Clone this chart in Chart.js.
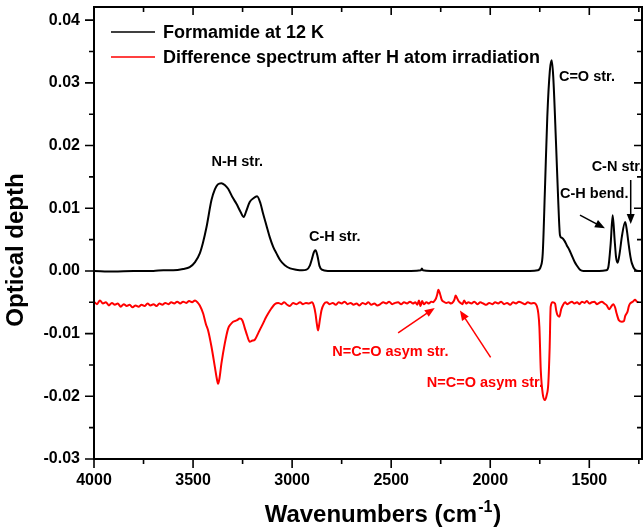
<!DOCTYPE html>
<html lang="en">
<head>
<meta charset="UTF-8">
<title>Formamide at 12 K</title>
<script src="https://cdn.jsdelivr.net/npm/chart.js"></script>
<style>
  html, body { margin: 0; padding: 0; background: #fff; }
  canvas { display: block; }
</style>
</head>
<body>
<canvas id="spectrum" width="644" height="530"></canvas>
<script>
const seriesNames = ['Formamide at 12 K', 'Difference spectrum after H atom irradiation'];
const seriesColors = ['#000000', '#ff0000'];

// black trace: wavenumber (cm-1) / optical depth
const formamideWn = [4000, 3900, 3800, 3700, 3650, 3600, 3550, 3517, 3490, 3466, 3450, 3432, 3407, 3390, 3375, 3357, 3340, 3323, 3300, 3281, 3260, 3244, 3232, 3214, 3195, 3177, 3160, 3147, 3130, 3113, 3095, 3079, 3060, 3037, 3010, 2980, 2950, 2927, 2910, 2900, 2890, 2882, 2872, 2862, 2850, 2820, 2700, 2600, 2500, 2400, 2350, 2345, 2340, 2300, 2200, 2100, 2000, 1900, 1800, 1760, 1745, 1735, 1724, 1712, 1699, 1690, 1682, 1668, 1657, 1648, 1640, 1625, 1614, 1600, 1589, 1575, 1564, 1547, 1530, 1450, 1415, 1404, 1392, 1382, 1372, 1365, 1357, 1346, 1336, 1319, 1310, 1302, 1292, 1285, 1269, 1250, 1234];
const formamideOd = [0.0000, -0.0001, 0.0000, 0.0000, 0.0001, 0.0001, 0.0003, 0.0006, 0.0014, 0.0028, 0.0045, 0.0070, 0.0113, 0.0130, 0.0138, 0.0140, 0.0137, 0.0131, 0.0117, 0.0107, 0.0094, 0.0086, 0.0095, 0.0110, 0.0116, 0.0119, 0.0108, 0.0092, 0.0073, 0.0054, 0.0038, 0.0028, 0.0017, 0.0009, 0.0004, 0.0002, 0.0001, 0.0002, 0.0009, 0.0019, 0.0030, 0.0033, 0.0024, 0.0008, 0.0002, 0.0000, 0.0000, 0.0000, 0.0000, 0.0000, 0.0001, 0.0004, 0.0001, 0.0000, 0.0000, 0.0000, 0.0000, 0.0000, 0.0000, 0.0001, 0.0007, 0.0028, 0.0129, 0.0246, 0.0320, 0.0336, 0.0310, 0.0204, 0.0113, 0.0057, 0.0053, 0.0048, 0.0041, 0.0033, 0.0025, 0.0015, 0.0009, 0.0002, 0.0000, 0.0000, 0.0001, 0.0006, 0.0044, 0.0089, 0.0049, 0.0022, 0.0013, 0.0030, 0.0054, 0.0078, 0.0064, 0.0044, 0.0022, 0.0012, 0.0002, 0.0000, 0.0000];

// red trace: difference spectrum
const diffWn = [4000, 3985, 3970, 3955, 3940, 3925, 3910, 3895, 3880, 3865, 3850, 3835, 3820, 3805, 3790, 3775, 3760, 3745, 3730, 3715, 3700, 3685, 3670, 3655, 3640, 3625, 3610, 3595, 3580, 3565, 3550, 3535, 3520, 3505, 3490, 3478, 3466, 3449, 3435, 3424, 3407, 3390, 3380, 3374, 3367, 3357, 3340, 3323, 3310, 3298, 3280, 3264, 3251, 3240, 3227, 3214, 3200, 3189, 3172, 3160, 3147, 3135, 3121, 3105, 3088, 3070, 3055, 3040, 3025, 3012, 2995, 2978, 2960, 2945, 2930, 2915, 2900, 2890, 2882, 2875, 2869, 2860, 2852, 2840, 2825, 2810, 2795, 2780, 2765, 2750, 2735, 2720, 2705, 2690, 2675, 2660, 2645, 2630, 2615, 2600, 2585, 2570, 2555, 2540, 2525, 2510, 2495, 2480, 2465, 2450, 2435, 2420, 2405, 2390, 2378, 2368, 2360, 2352, 2344, 2335, 2322, 2310, 2298, 2288, 2280, 2274, 2268, 2262, 2254, 2245, 2235, 2222, 2210, 2198, 2186, 2180, 2175, 2168, 2160, 2150, 2140, 2132, 2122, 2110, 2095, 2080, 2065, 2050, 2035, 2020, 2005, 1990, 1975, 1960, 1945, 1930, 1915, 1900, 1885, 1870, 1855, 1840, 1825, 1810, 1795, 1780, 1765, 1752, 1745, 1735, 1724, 1715, 1707, 1700, 1695, 1685, 1673, 1667, 1661, 1651, 1642, 1634, 1622, 1612, 1600, 1588, 1575, 1562, 1550, 1537, 1524, 1512, 1500, 1487, 1474, 1462, 1450, 1437, 1424, 1412, 1400, 1388, 1379, 1370, 1362, 1350, 1336, 1325, 1319, 1307, 1300, 1294, 1280, 1269, 1260, 1252, 1243, 1234];
const diffOd = [-0.0049, -0.0053, -0.0047, -0.0052, -0.0050, -0.0055, -0.0051, -0.0054, -0.0052, -0.0057, -0.0053, -0.0056, -0.0054, -0.0058, -0.0055, -0.0057, -0.0054, -0.0056, -0.0052, -0.0055, -0.0053, -0.0056, -0.0052, -0.0054, -0.0051, -0.0053, -0.0050, -0.0052, -0.0049, -0.0052, -0.0049, -0.0051, -0.0048, -0.0050, -0.0047, -0.0050, -0.0055, -0.0068, -0.0085, -0.0095, -0.0121, -0.0153, -0.0172, -0.0180, -0.0172, -0.0148, -0.0116, -0.0092, -0.0085, -0.0081, -0.0079, -0.0076, -0.0079, -0.0090, -0.0103, -0.0113, -0.0111, -0.0110, -0.0100, -0.0092, -0.0084, -0.0076, -0.0068, -0.0060, -0.0053, -0.0051, -0.0053, -0.0050, -0.0054, -0.0056, -0.0051, -0.0053, -0.0050, -0.0053, -0.0051, -0.0052, -0.0050, -0.0056, -0.0068, -0.0085, -0.0095, -0.0078, -0.0063, -0.0053, -0.0050, -0.0053, -0.0051, -0.0054, -0.0050, -0.0052, -0.0049, -0.0053, -0.0051, -0.0054, -0.0052, -0.0055, -0.0051, -0.0053, -0.0050, -0.0054, -0.0052, -0.0055, -0.0053, -0.0050, -0.0052, -0.0049, -0.0053, -0.0051, -0.0050, -0.0053, -0.0050, -0.0052, -0.0049, -0.0052, -0.0050, -0.0054, -0.0047, -0.0056, -0.0048, -0.0053, -0.0050, -0.0052, -0.0049, -0.0050, -0.0047, -0.0044, -0.0038, -0.0030, -0.0036, -0.0046, -0.0049, -0.0051, -0.0050, -0.0052, -0.0049, -0.0045, -0.0039, -0.0043, -0.0048, -0.0051, -0.0053, -0.0047, -0.0052, -0.0050, -0.0052, -0.0049, -0.0053, -0.0050, -0.0052, -0.0054, -0.0051, -0.0053, -0.0050, -0.0052, -0.0049, -0.0053, -0.0051, -0.0054, -0.0050, -0.0052, -0.0049, -0.0051, -0.0053, -0.0050, -0.0052, -0.0051, -0.0056, -0.0089, -0.0158, -0.0196, -0.0206, -0.0198, -0.0180, -0.0121, -0.0057, -0.0050, -0.0052, -0.0063, -0.0070, -0.0073, -0.0061, -0.0055, -0.0050, -0.0053, -0.0051, -0.0049, -0.0052, -0.0050, -0.0053, -0.0049, -0.0051, -0.0048, -0.0052, -0.0050, -0.0049, -0.0053, -0.0051, -0.0049, -0.0052, -0.0055, -0.0061, -0.0056, -0.0053, -0.0058, -0.0068, -0.0079, -0.0081, -0.0080, -0.0072, -0.0065, -0.0056, -0.0052, -0.0049, -0.0046, -0.0049, -0.0050];

const xMajorTicks = [1500, 2000, 2500, 3000, 3500, 4000];
const xMinorTicks = [1250, 1750, 2250, 2750, 3250, 3750];
const yMajorTicks = [-0.03, -0.02, -0.01, 0, 0.01, 0.02, 0.03, 0.04];
const yMinorTicks = [-0.025, -0.015, -0.005, 0.005, 0.015, 0.025, 0.035];

// band labels and arrows, placed in data coordinates
const bandLabels = [
  { text: 'N-H str.', wn: 3277, od: 0.0173, color: '#000000' },
  { text: 'C-H str.', wn: 2785, od: 0.0054, color: '#000000' },
  { text: 'C=O str.', wn: 1512, od: 0.0309, color: '#000000' },
  { text: 'C-N str.', wn: 1358, od: 0.0165, color: '#000000' },
  { text: 'C-H bend.', wn: 1475, od: 0.0122, color: '#000000' },
  { text: 'N=C=O asym str.', wn: 2504, od: -0.0130, color: '#ff0000' },
  { text: 'N=C=O asym str.', wn: 2027, od: -0.0178, color: '#ff0000' }
];
const bandArrows = [
  { from: [1547, 0.0089], to: [1421, 0.0068], color: '#000000' },
  { from: [1291, 0.0145], to: [1291, 0.0075], color: '#000000' },
  { from: [2465, -0.0099], to: [2280, -0.0059], color: '#ff0000' },
  { from: [1998, -0.0138], to: [2153, -0.0063], color: '#ff0000' }
];

const FONT = '"Liberation Sans", Arial, Helvetica, sans-serif';

function drawArrow(ctx, x1, y1, x2, y2, color) {
  const ang = Math.atan2(y2 - y1, x2 - x1);
  const head = 10;
  ctx.strokeStyle = color;
  ctx.fillStyle = color;
  ctx.lineWidth = 1.5;
  ctx.beginPath();
  ctx.moveTo(x1, y1);
  ctx.lineTo(x2 - Math.cos(ang) * head * 0.8, y2 - Math.sin(ang) * head * 0.8);
  ctx.stroke();
  ctx.beginPath();
  ctx.moveTo(x2, y2);
  ctx.lineTo(x2 - head * Math.cos(ang) + 4 * Math.sin(ang), y2 - head * Math.sin(ang) - 4 * Math.cos(ang));
  ctx.lineTo(x2 - head * Math.cos(ang) - 4 * Math.sin(ang), y2 - head * Math.sin(ang) + 4 * Math.cos(ang));
  ctx.closePath();
  ctx.fill();
}

const framePlugin = {
  id: 'frame',
  afterDraw(chart) {
    const ctx = chart.ctx;
    const a = chart.chartArea;
    const xs = chart.scales.x;
    const ys = chart.scales.y;
    ctx.save();

    // box
    ctx.strokeStyle = '#000';
    ctx.lineWidth = 2;
    ctx.strokeRect(a.left, a.top, a.right - a.left, a.bottom - a.top);

    // ticks: outward on bottom/left, inward on top/right
    ctx.lineWidth = 1.6;
    ctx.beginPath();
    xMajorTicks.forEach(v => {
      const p = xs.getPixelForValue(v);
      ctx.moveTo(p, a.bottom); ctx.lineTo(p, a.bottom + 9);
      ctx.moveTo(p, a.top); ctx.lineTo(p, a.top + 8);
    });
    xMinorTicks.forEach(v => {
      const p = xs.getPixelForValue(v);
      ctx.moveTo(p, a.bottom); ctx.lineTo(p, a.bottom + 5);
      ctx.moveTo(p, a.top); ctx.lineTo(p, a.top + 5);
    });
    yMajorTicks.forEach(v => {
      const p = ys.getPixelForValue(v);
      ctx.moveTo(a.left, p); ctx.lineTo(a.left - 9, p);
      ctx.moveTo(a.right, p); ctx.lineTo(a.right - 8, p);
    });
    yMinorTicks.forEach(v => {
      const p = ys.getPixelForValue(v);
      ctx.moveTo(a.left, p); ctx.lineTo(a.left - 5, p);
      ctx.moveTo(a.right, p); ctx.lineTo(a.right - 5, p);
    });
    ctx.stroke();

    // legend
    ctx.font = 'bold 18px ' + FONT;
    ctx.textAlign = 'left';
    ctx.textBaseline = 'middle';
    seriesNames.forEach((name, i) => {
      const y = a.top + 25 + i * 25;
      ctx.strokeStyle = seriesColors[i];
      ctx.lineWidth = 1.6;
      ctx.beginPath();
      ctx.moveTo(a.left + 17, y);
      ctx.lineTo(a.left + 61, y);
      ctx.stroke();
      ctx.fillStyle = '#000';
      ctx.fillText(name, a.left + 69, y + 1);
    });

    // band labels and arrows
    ctx.font = 'bold 14.5px ' + FONT;
    ctx.textAlign = 'center';
    bandLabels.forEach(l => {
      ctx.fillStyle = l.color;
      ctx.fillText(l.text, xs.getPixelForValue(l.wn), ys.getPixelForValue(l.od));
    });
    bandArrows.forEach(ar => {
      drawArrow(ctx,
        xs.getPixelForValue(ar.from[0]), ys.getPixelForValue(ar.from[1]),
        xs.getPixelForValue(ar.to[0]), ys.getPixelForValue(ar.to[1]), ar.color);
    });

    // y title
    ctx.fillStyle = '#000';
    ctx.save();
    ctx.translate(23, (a.top + a.bottom) / 2 + 17);
    ctx.rotate(-Math.PI / 2);
    ctx.font = 'bold 24px ' + FONT;
    ctx.textAlign = 'center';
    ctx.textBaseline = 'alphabetic';
    ctx.fillText('Optical depth', 0, 0);
    ctx.restore();

    // x title with superscript
    const main = 'Wavenumbers (cm';
    const sup = '-1';
    const close = ')';
    ctx.textAlign = 'left';
    ctx.textBaseline = 'alphabetic';
    ctx.font = 'bold 24px ' + FONT;
    const w1 = ctx.measureText(main).width;
    const w3 = ctx.measureText(close).width;
    ctx.font = 'bold 16px ' + FONT;
    const w2 = ctx.measureText(sup).width;
    let x = (a.left + a.right) / 2 + 14 - (w1 + w2 + w3) / 2;
    const base = 522;
    ctx.font = 'bold 24px ' + FONT;
    ctx.fillText(main, x, base);
    x += w1 + 1;
    ctx.font = 'bold 16px ' + FONT;
    ctx.fillText(sup, x, base - 10);
    x += w2 + 1;
    ctx.font = 'bold 24px ' + FONT;
    ctx.fillText(close, x, base);

    ctx.restore();
  }
};

new Chart(document.getElementById('spectrum'), {
  type: 'line',
  data: {
    datasets: [
      {
        label: seriesNames[0],
        data: formamideWn.map((w, i) => ({ x: w, y: formamideOd[i] })),
        borderColor: seriesColors[0],
        borderWidth: 2,
        pointRadius: 0,
        cubicInterpolationMode: 'monotone',
        fill: false
      },
      {
        label: seriesNames[1],
        data: diffWn.map((w, i) => ({ x: w, y: diffOd[i] })),
        borderColor: seriesColors[1],
        borderWidth: 2,
        pointRadius: 0,
        cubicInterpolationMode: 'monotone',
        fill: false
      }
    ]
  },
  options: {
    responsive: false,
    animation: false,
    layout: { padding: { top: 7, right: 2, left: 0, bottom: 0 } },
    plugins: {
      legend: { display: false },
      tooltip: { enabled: false }
    },
    scales: {
      x: {
        type: 'linear',
        reverse: true,
        min: 1234,
        max: 4000,
        afterBuildTicks: s => { s.ticks = xMajorTicks.map(v => ({ value: v })); },
        afterFit: s => { s.height = 71; s.paddingLeft = 0; s.paddingRight = 0; },
        grid: { display: false, drawTicks: false },
        border: { display: false },
        ticks: {
          color: '#000',
          font: { family: FONT, size: 16, weight: 'bold' },
          padding: 12,
          maxRotation: 0,
          autoSkip: false,
          callback: v => String(v)
        }
      },
      y: {
        type: 'linear',
        min: -0.03,
        max: 0.0421,
        afterBuildTicks: s => { s.ticks = yMajorTicks.map(v => ({ value: v })); },
        afterFit: s => { s.width = 94; s.paddingTop = 0; s.paddingBottom = 0; },
        grid: { display: false, drawTicks: false },
        border: { display: false },
        ticks: {
          color: '#000',
          font: { family: FONT, size: 16, weight: 'bold' },
          padding: 14,
          autoSkip: false,
          callback: v => v.toFixed(2)
        }
      }
    }
  },
  plugins: [framePlugin]
});
</script>
</body>
</html>
